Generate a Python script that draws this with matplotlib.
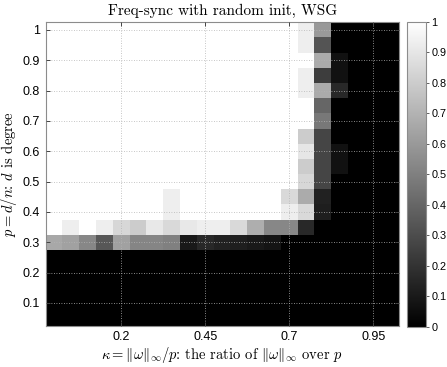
import numpy as np
import matplotlib
matplotlib.use("Agg")
import matplotlib.pyplot as plt

plt.rcParams['font.family'] = ['Liberation Sans', 'DejaVu Sans']
plt.rcParams['mathtext.fontset'] = 'cm'

# kappa (x) and p = d/n (y) grid values
kappa = np.round(np.arange(0, 21) * 0.05, 2)
p_vals = np.round(np.arange(1, 21) * 0.05, 2)

# success rate, one row per p, listed from p = 1.0 down to p = 0.05
rows_top_down = [
    [1]*15 + [0.93, 0.60, 0, 0, 0, 0],        # 1.00
    [1]*15 + [0.93, 0.33, 0, 0, 0, 0],        # 0.95
    [1]*15 + [1.00, 0.67, 0.07, 0, 0, 0],     # 0.90
    [1]*15 + [0.93, 0.24, 0.07, 0, 0, 0],     # 0.85
    [1]*15 + [0.93, 0.67, 0.16, 0, 0, 0],     # 0.80
    [1]*15 + [1.00, 0.40, 0, 0, 0, 0],        # 0.75
    [1]*15 + [1.00, 0.47, 0, 0, 0, 0],        # 0.70
    [1]*15 + [0.80, 0.27, 0, 0, 0, 0],        # 0.65
    [1]*15 + [0.90, 0.27, 0.07, 0, 0, 0],     # 0.60
    [1]*15 + [0.80, 0.27, 0.07, 0, 0, 0],     # 0.55
    [1]*15 + [0.84, 0.27, 0, 0, 0, 0],        # 0.50
    [1, 1, 1, 1, 1, 1, 1, 0.93, 1, 1, 1, 1, 1, 1, 0.85, 0.67, 0.13, 0, 0, 0, 0],   # 0.45
    [1, 1, 1, 1, 1, 1, 1, 0.93, 1, 1, 1, 1, 1, 1, 0.93, 0.85, 0.12, 0, 0, 0, 0],   # 0.40
    [1, 0.93, 1, 0.93, 0.84, 0.80, 0.91, 0.85, 0.91, 0.93, 0.93, 0.85, 0.68, 0.53, 0.53, 0.16, 0, 0, 0, 0, 0],  # 0.35
    [0.66, 0.63, 0.53, 0.34, 0.63, 0.52, 0.52, 0.50, 0.10, 0.16, 0.13, 0.12, 0.10, 0.08, 0, 0, 0, 0, 0, 0, 0],  # 0.30
    [0]*21,  # 0.25
    [0]*21,  # 0.20
    [0]*21,  # 0.15
    [0]*21,  # 0.10
    [0]*21,  # 0.05
]
success = np.array(rows_top_down[::-1])

xticks = [0.2, 0.45, 0.7, 0.95]
yticks = [0.1, 0.2, 0.3, 0.4, 0.5, 0.6, 0.7, 0.8, 0.9, 1.0]
cticks = [0, 0.1, 0.2, 0.3, 0.4, 0.5, 0.6, 0.7, 0.8, 0.9, 1.0]

fig = plt.figure(figsize=(4.47, 3.67), dpi=100)
ax = fig.add_axes([0.1022, 0.1125, 0.7893, 0.8267])
mesh = ax.pcolormesh(kappa, p_vals, success, shading='nearest',
                     cmap='gray', vmin=0, vmax=1)

ax.set_xticks(xticks)
ax.set_xticklabels(['%g' % t for t in xticks])
ax.set_yticks(yticks)
ax.set_yticklabels(['%g' % t for t in yticks])
ax.set_axisbelow(False)
ax.grid(True, linestyle=(0, (1, 2)), color='#b4b4b4', linewidth=0.6)
ax.tick_params(direction='in', length=3, width=0.7, color='#444444',
               top=True, right=True, labelsize=9, pad=4)
for s in ax.spines.values():
    s.set_color('#8c8c8c')
    s.set_linewidth(0.8)

ax.set_title('Freq-sync with random init, WSG', fontfamily='cmr10',
             fontsize=11, pad=5)
ax.set_xlabel(r'$\kappa = \|\omega\|_\infty/p$: the ratio of $\|\omega\|_\infty$ over $p$',
              fontfamily='cmr10', fontsize=10.5, labelpad=1)
ax.set_ylabel(r'$p = d/n$: $d$ is degree', fontfamily='cmr10',
              fontsize=10.5, labelpad=3)

cax = fig.add_axes([0.9112, 0.109, 0.0418, 0.832])
cb = fig.colorbar(mesh, cax=cax, ticks=cticks)
cb.ax.set_yticklabels(['%g' % t for t in cticks])
cb.ax.tick_params(direction='out', length=2, width=0.6, color='#444444',
                  labelsize=7.8, pad=2)
cb.outline.set_edgecolor('#8c8c8c')
cb.outline.set_linewidth(0.8)

fig.savefig('out.png', dpi=100)
